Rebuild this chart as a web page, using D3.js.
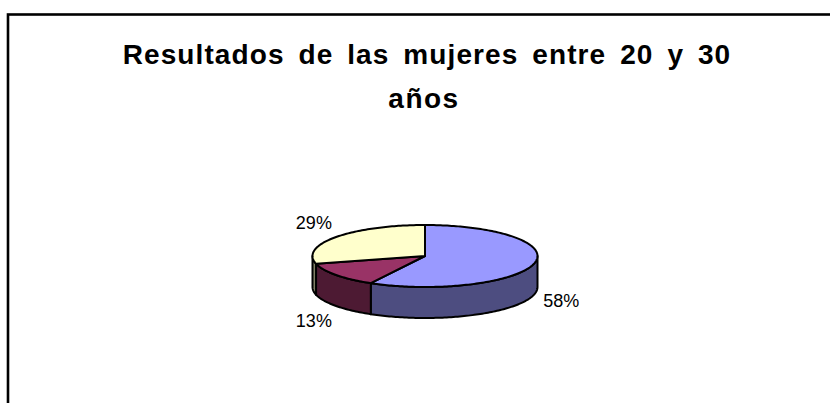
<!DOCTYPE html>
<html><head><meta charset="utf-8">
<script src="https://cdn.jsdelivr.net/npm/d3@7"></script>
<style>body{margin:0;background:#fff}svg{display:block}</style>
</head><body>
<svg id="chart" width="830" height="403"></svg>
<script>
const titleLines = ["Resultados de las mujeres entre 20 y 30", "años"];
const categories = ["A", "B", "C"];
const values = [58, 13, 29];
const labels = ["58%", "13%", "29%"];
const topColors = ["#9999FF", "#993366", "#FFFFCC"];
const sideColors = ["#4D4D80", "#4D1A33", "#808066"];

const svg = d3.select("#chart");
const W = 830, H = 403;
svg.append("rect").attr("x", 0).attr("y", 0).attr("width", W).attr("height", H).attr("fill", "#fff");
svg.append("rect").attr("x", 8).attr("y", 14.5).attr("width", 900).attr("height", 500)
  .attr("fill", "none").attr("stroke", "#000").attr("stroke-width", 2.6);

const title = svg.append("g");
const t1 = title.append("text").attr("x", 427).attr("y", 64).attr("text-anchor", "middle")
  .style("font-family", "'Liberation Sans', Arial, sans-serif").style("font-weight", "bold")
  .style("font-size", "28px").style("letter-spacing", "1.1px").style("word-spacing", "5px").text(titleLines[0]);
const t2 = title.append("text").attr("x", 424).attr("y", 108).attr("text-anchor", "middle")
  .style("font-family", "'Liberation Sans', Arial, sans-serif").style("font-weight", "bold")
  .style("font-size", "28px").style("letter-spacing", "1.5px").text(titleLines[1]);

const cx = 425, cy = 256, rx = 112.5, ry = 31, depth = 31;
const pie = d3.pie().sort(null).value(d => d)(values);
const px = a => cx + rx * Math.sin(a);
const py = a => cy - ry * Math.cos(a);
const line = d3.line();
function arcPts(a0, a1, dy) {
  const n = Math.max(2, Math.ceil(Math.abs(a1 - a0) / 0.02));
  return d3.range(n + 1).map(i => { const a = a0 + (a1 - a0) * i / n; return [px(a), py(a) + dy]; });
}
const g = svg.append("g");
// side walls (front half: angles between PI/2 and 3PI/2)
pie.forEach((s, i) => {
  const a0 = Math.max(s.startAngle, Math.PI / 2), a1 = Math.min(s.endAngle, 3 * Math.PI / 2);
  if (a1 <= a0) return;
  const pts = arcPts(a0, a1, 0).concat(arcPts(a1, a0, depth));
  g.append("path").attr("d", line(pts) + "Z").attr("fill", sideColors[i])
    .attr("stroke", "#000").attr("stroke-width", 2).attr("stroke-linejoin", "round");
});
// top faces
pie.forEach((s, i) => {
  const pts = [[cx, cy]].concat(arcPts(s.startAngle, s.endAngle, 0));
  g.append("path").attr("d", line(pts) + "Z").attr("fill", topColors[i])
    .attr("stroke", "#000").attr("stroke-width", 2).attr("stroke-linejoin", "round");
});
// labels
pie.forEach((s, i) => {
  const m = (s.startAngle + s.endAngle) / 2;
  const front = Math.cos(m) < 0;
  const x = cx + rx * 1.25 * Math.sin(m);
  const y = cy - ry * 1.75 * Math.cos(m) + (front ? depth : 0);
  svg.append("text").attr("x", x).attr("y", y).attr("dy", "0.36em").attr("text-anchor", "middle")
    .style("font-family", "'Liberation Sans', Arial, sans-serif").style("font-size", "18px")
    .attr("fill", "#000").text(labels[i]);
});
</script>
</body></html>
